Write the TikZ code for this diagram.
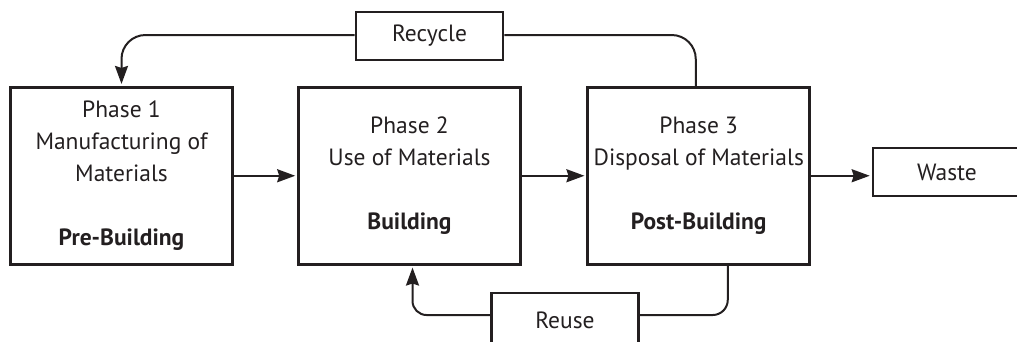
\documentclass[tikz,border=0pt]{standalone}
\usepackage{fontspec}
\setmainfont{PT Sans}
\usetikzlibrary{arrows.meta}
\definecolor{ink}{HTML}{231F20}

\begin{document}
\begin{tikzpicture}[x=1pt,y=-1pt,
    phase/.style={draw=ink,line width=2.6pt,minimum width=222pt,minimum height=177pt,
      inner sep=0pt,align=center,text=ink,font=\fontsize{23.5}{32}\selectfont},
    tag/.style={draw=ink,line width=2.6pt,minimum width=147pt,minimum height=48pt,
      inner sep=0pt,text=ink,font=\fontsize{23.5}{32}\selectfont},
    flow/.style={draw=ink,line width=2pt,-{Stealth[length=18pt,width=13pt,inset=2pt]},shorten >=2pt},
    link/.style={draw=ink,line width=2pt,rounded corners=#1},
    link/.default=24pt]
  \useasboundingbox (0,0) rectangle (1017,341);
  \node[phase] (p1) at (121.5,175.75) {Phase 1\\Manufacturing of\\Materials\\[32pt]\textbf{Pre-Building}};
  \node[phase] (p2) at (409.5,175.75) {Phase 2\\Use of Materials\\[32pt]\textbf{Building}};
  \node[phase] (p3) at (698.75,175.75) {Phase 3\\Disposal of Materials\\[32pt]\textbf{Post-Building}};
  \node[tag,minimum width=180pt] (waste) at (963,172) {\hspace*{-32pt}Waste};
  \node[tag] (recycle) at (429.5,36) {Recycle};
  \node[tag,minimum height=64pt] (reuse) at (565,325) {\raisebox{10pt}{Reuse}};
  \draw[flow] (p1) -- (p2);
  \draw[flow] (p2) -- (p3);
  \draw[flow] (p3) -- (p3 -| waste.west);
  \draw[link] ([xshift=-3pt]p3.north) |- ([yshift=1pt]recycle.east);
  \draw[link,flow] ([yshift=1pt]recycle.west) -| (p1.north);
  \draw[link=15pt] ([xshift=29pt]p3.south) |- ([yshift=10pt]reuse.east);
  \draw[link=14pt,flow] ([yshift=10pt]reuse.west) -| ([xshift=3pt]p2.south);
\end{tikzpicture}
\end{document}
